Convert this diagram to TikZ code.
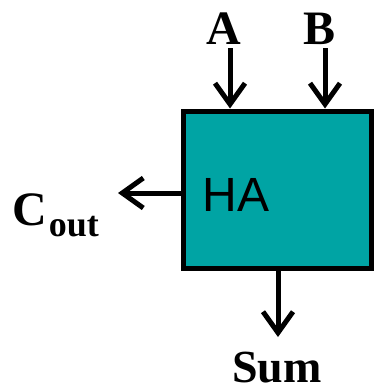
\documentclass[tikz,border=0pt]{standalone}
\usepackage{fontspec}
\setmainfont{Liberation Serif}
\newfontfamily\hafont{Liberation Sans}
\usetikzlibrary{arrows.meta}
\definecolor{tealfill}{RGB}{0,164,164}
\begin{document}
\begin{tikzpicture}[x=1pt,y=-1pt,
  arr/.style={line width=5pt,-{Straight Barb[length=21pt,width=30pt]}},
  lbl/.style={font=\fontsize{48}{48}\selectfont\bfseries,inner sep=0pt},
  boxstyle/.style={draw,line width=5pt,fill=tealfill,minimum width=188pt,minimum height=157pt,inner sep=0pt}]
\useasboundingbox (0,0) rectangle (374,391);
\node[boxstyle] (box) at (277,189.5) {};
\node[font=\fontsize{48}{48}\hafont,inner sep=0pt] (ha) at (236,195) {HA};
\node[lbl,anchor=base] (a) at (224,44) {A};
\node[lbl,anchor=base] (b) at (320,44) {B};
\node[lbl,font=\fontsize{46}{46}\selectfont\bfseries,anchor=base] (sum) at (277,382) {Sum};
\node[lbl,anchor=base west] (cout) at (12,225) {C\kern2pt\raisebox{-11pt}{\fontsize{36}{36}\selectfont out}};
\coordinate (atop) at (230,48);
\coordinate (btop) at (325,48);
\coordinate (cend) at (118,193);
\coordinate (send) at (278,337);
\draw[arr] (atop) -- (atop |- box.north);
\draw[arr] (btop) -- (btop |- box.north);
\draw[arr] (box.west |- cend) -- (cend);
\draw[arr] (box.south -| send) -- (send);
\end{tikzpicture}
\end{document}
